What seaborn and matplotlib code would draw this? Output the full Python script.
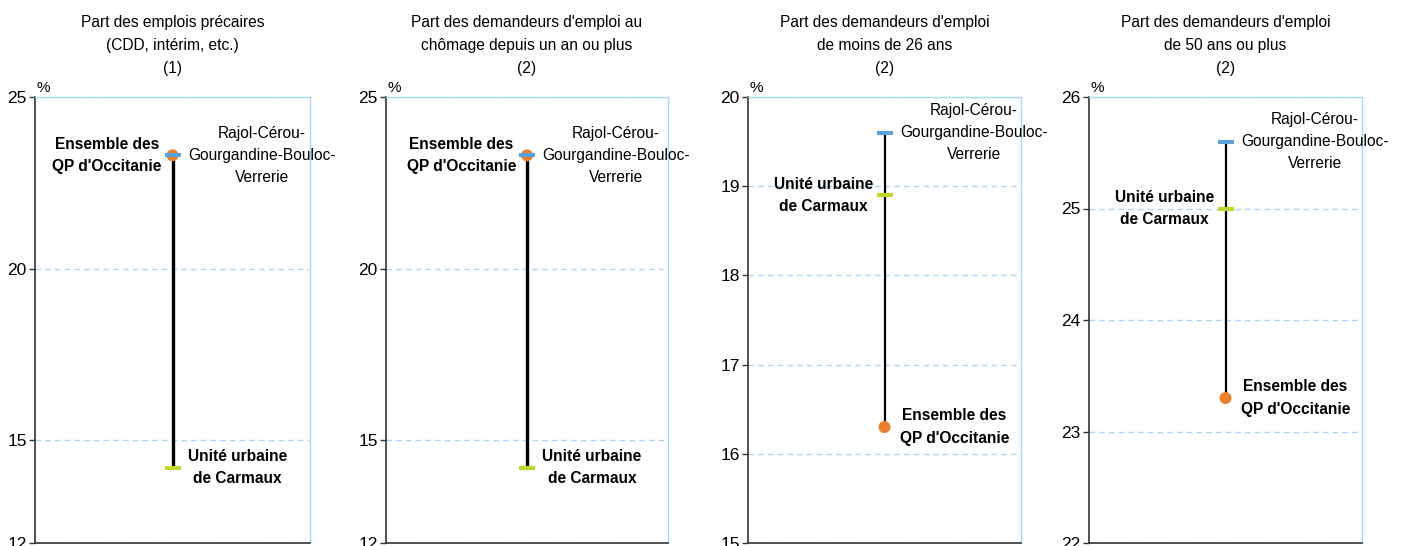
import matplotlib
matplotlib.use("Agg")
import matplotlib.pyplot as plt
import seaborn as sns
import pandas as pd

# ---- data ----
titles = [
    "Part des emplois précaires\n(CDD, intérim, etc.)\n(1)",
    "Part des demandeurs d'emploi au\nchômage depuis un an ou plus\n(2)",
    "Part des demandeurs d'emploi\nde moins de 26 ans\n(2)",
    "Part des demandeurs d'emploi\nde 50 ans ou plus\n(2)",
]
rajol = [23.3, 23.3, 19.6, 25.6]
unite = [14.2, 14.2, 18.9, 25.0]
qp = [23.3, 23.3, 16.3, 23.3]
y_min = [12, 12, 15, 22]
y_max = [25, 25, 20, 26]
y_ticks = [[12, 15, 20, 25], [12, 15, 20, 25],
           [15, 16, 17, 18, 19, 20], [22, 23, 24, 25, 26]]
lbl_rajol = "Rajol-Cérou-\nGourgandine-Bouloc-\nVerrerie"
lbl_unite = "Unité urbaine\nde Carmaux"
lbl_qp = "Ensemble des\nQP d'Occitanie"

# ---- style / layout ----
sns.set_theme(style="white")
plt.rcParams['font.family'] = ['Liberation Sans', 'DejaVu Sans']

C_ORANGE = "#E8802F"
C_BLUE = "#5AA2D9"
C_GREEN = "#C3D530"
C_LIGHT = "#A9DAF2"
C_DARK = "#333333"

W, H = 1403, 546
lefts = [35, 386, 748, 1089]
widths = [275, 282, 273, 273]
top_px, bot_px = 97, 543
line_w = [2.4, 2.4, 1.6, 1.6]
# side of label: +1 right, -1 left
side_qp = [-1, -1, 1, 1]
side_unite = [1, 1, -1, -1]
side_rajol = [1, 1, 1, 1]

fig = plt.figure(figsize=(W / 100, H / 100), dpi=100)

for i in range(4):
    ax = fig.add_axes([lefts[i] / W, (H - bot_px) / H, widths[i] / W,
                       (bot_px - top_px) / H])
    lo = min(rajol[i], unite[i], qp[i])
    hi = max(rajol[i], unite[i], qp[i])
    seg = pd.DataFrame({"x": [0, 0], "y": [hi, lo]})
    sns.lineplot(data=seg, x="x", y="y", estimator=None, sort=False,
                 color="black", linewidth=line_w[i], ax=ax, zorder=3)
    sns.scatterplot(x=[0], y=[qp[i]], color=C_ORANGE, s=75, edgecolor="none",
                    ax=ax, zorder=4)
    sns.scatterplot(x=[0], y=[unite[i]], marker="_", color=C_GREEN, s=140,
                    linewidth=3, ax=ax, zorder=5)
    sns.scatterplot(x=[0], y=[rajol[i]], marker="_", color=C_BLUE, s=140,
                    linewidth=3, ax=ax, zorder=6)

    def lab(y, text, side, bold):
        off = 11 if side > 0 else 8
        ax.annotate(text, xy=(0, y), xytext=(off * side, 0),
                    textcoords="offset points",
                    ha="left" if side > 0 else "right", va="center",
                    multialignment="center", fontsize=11.2,
                    fontweight="bold" if bold else "normal",
                    linespacing=1.6, color="black", zorder=7,
                    annotation_clip=False)

    lab(rajol[i], lbl_rajol, side_rajol[i], False)
    lab(unite[i], lbl_unite, side_unite[i], True)
    lab(qp[i], lbl_qp, side_qp[i], True)

    ax.set_xlim(-1, 1)
    ax.set_ylim(y_min[i], y_max[i])
    ax.set_yticks(y_ticks[i])
    ax.set_yticklabels([str(t) for t in y_ticks[i]], fontsize=12.5)
    ax.set_xticks([])
    ax.set_xlabel("")
    ax.set_ylabel("")
    ax.tick_params(axis="y", left=True, length=4, width=1, color=C_DARK,
                   pad=2, labelcolor="black")
    ax.grid(axis="y", linestyle=(0, (4, 3)), color=C_LIGHT, linewidth=1)
    ax.set_axisbelow(True)
    for s in ["top", "right"]:
        ax.spines[s].set_color(C_LIGHT)
        ax.spines[s].set_linewidth(1)
    for s in ["left", "bottom"]:
        ax.spines[s].set_color(C_DARK)
        ax.spines[s].set_linewidth(1.2)
    ax.text(0.005, 1.005, "%", transform=ax.transAxes, ha="left", va="bottom",
            fontsize=11, color="black")
    ax.set_title(titles[i], fontsize=11.2, linespacing=1.7, pad=17,
                 color="black")

fig.savefig("out.png", dpi=100)
